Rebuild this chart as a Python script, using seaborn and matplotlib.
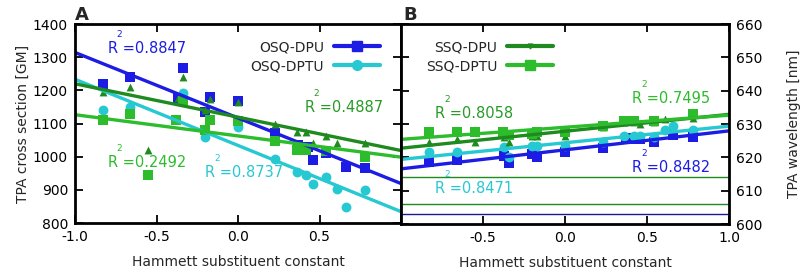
import numpy as np
import matplotlib
matplotlib.use("Agg")
import matplotlib.pyplot as plt
from matplotlib.lines import Line2D
import seaborn as sns

# Hammett constants and values
# panel A: TPA cross section [GM]
a_osq_dpu_x = [-0.83, -0.66, -0.37, -0.34, -0.20, -0.17, 0.00, 0.23, 0.37, 0.43, 0.46, 0.54, 0.66, 0.78]
a_osq_dpu_y = [1220, 1240, 1176, 1268, 1135, 1180, 1168, 1070, 1035, 1030, 990, 1010, 968, 965]
a_osq_dptu_x = [-0.83, -0.66, -0.34, -0.20, 0.00, 0.23, 0.36, 0.42, 0.46, 0.54, 0.61, 0.66, 0.78]
a_osq_dptu_y = [1140, 1150, 1193, 1060, 1090, 992, 955, 945, 919, 940, 904, 847, 900]
a_ssq_dpu_x = [-0.83, -0.66, -0.55, -0.37, -0.34, -0.20, -0.17, 0.00, 0.23, 0.36, 0.42, 0.46, 0.54, 0.61, 0.78]
a_ssq_dpu_y = [1196, 1211, 1020, 1178, 1241, 1140, 1174, 1166, 1100, 1073, 1074, 1042, 1062, 1040, 1042]
a_ssq_dptu_x = [-0.83, -0.66, -0.55, -0.38, -0.34, -0.20, -0.17, 0.00, 0.23, 0.36, 0.42, 0.54, 0.78]
a_ssq_dptu_y = [1110, 1128, 945, 1110, 1168, 1080, 1110, 1107, 1048, 1020, 1020, 1018, 1000]

# panel B: TPA wavelength [nm]
b_osq_dpu_x = [-0.83, -0.66, -0.37, -0.34, -0.20, -0.17, 0.00, 0.23, 0.37, 0.43, 0.46, 0.54, 0.66, 0.78]
b_osq_dpu_y = [618.5, 619.3, 620.5, 618.4, 621.0, 620.2, 621.7, 622.7, 625.7, 625.5, 625.4, 624.7, 626.7, 626.2]
b_osq_dptu_x = [-0.83, -0.66, -0.37, -0.34, -0.20, -0.17, 0.00, 0.23, 0.36, 0.42, 0.46, 0.54, 0.61, 0.66, 0.78]
b_osq_dptu_y = [621.7, 621.7, 623.2, 620.0, 623.5, 623.3, 623.5, 624.7, 626.4, 626.4, 626.4, 626.2, 628.2, 629.5, 628.2]
b_ssq_dpu_x = [-0.83, -0.66, -0.55, -0.37, -0.34, -0.20, -0.17, 0.00, 0.23, 0.36, 0.42, 0.46, 0.54, 0.61, 0.78]
b_ssq_dpu_y = [624.5, 625.5, 624.7, 626.2, 624.7, 626.5, 626.5, 626.4, 629.0, 630.5, 630.5, 630.0, 630.5, 631.5, 631.7]
b_ssq_dptu_x = [-0.83, -0.66, -0.55, -0.38, -0.34, -0.20, -0.17, 0.00, 0.23, 0.36, 0.42, 0.54, 0.78]
b_ssq_dptu_y = [627.5, 627.5, 627.5, 627.5, 626.8, 627.0, 627.5, 627.5, 629.5, 631.0, 631.0, 631.0, 633.0]
b_ref_lines = [614, 606, 603]

# R^2 labels as printed in the figure
a_r2 = ["0.8847", "0.8737", "0.4887", "0.2492"]
b_r2 = ["0.8482", "0.8471", "0.8058", "0.7495"]

BLUE = "#1c1ce4"
CYAN = "#26c8d2"
DGREEN = "#1f8a1f"
LGREEN = "#2cbc2c"
NAVY = "#1a1a90"

sns.set_style("ticks")
plt.rcParams["font.family"] = ["DejaVu Sans"]
plt.rcParams["axes.unicode_minus"] = False

fig = plt.figure(figsize=(8.09, 2.72), dpi=100)
W, H = 809, 272
ax1 = fig.add_axes([75 / W, 1 - 223 / H, 326 / W, 199 / H])
ax2 = fig.add_axes([401 / W, 1 - 224 / H, 328 / W, 200 / H])

styles = [(BLUE, "s", 46), (CYAN, "o", 50), (DGREEN, "^", 32), (LGREEN, "s", 48)]
a_series = [(a_osq_dpu_x, a_osq_dpu_y), (a_osq_dptu_x, a_osq_dptu_y),
            (a_ssq_dpu_x, a_ssq_dpu_y), (a_ssq_dptu_x, a_ssq_dptu_y)]
b_series = [(b_osq_dpu_x, b_osq_dpu_y), (b_osq_dptu_x, b_osq_dptu_y),
            (b_ssq_dpu_x, b_ssq_dpu_y), (b_ssq_dptu_x, b_ssq_dptu_y)]

ax1.set_xlim(-1, 1)
ax1.set_ylim(800, 1400)
ax2.set_xlim(-1, 1)
ax2.set_ylim(600, 660)

for ax, series in [(ax1, a_series), (ax2, b_series)]:
    for (x, y), (c, m, s) in zip(series, styles):
        sns.regplot(x=np.array(x), y=np.array(y), ax=ax, ci=None, truncate=False,
                    marker=m, color=c,
                    scatter_kws={"s": s, "linewidths": 0, "alpha": 1},
                    line_kws={"lw": 2.4})

for v, c in zip(b_ref_lines, [DGREEN, DGREEN, NAVY]):
    ax2.axhline(v, color=c, lw=1.0)


def r2_label(ax, x, y, val, color):
    ax.text(x, y, "R =" + val, color=color, fontsize=10.5, ha="left", va="baseline")
    ax.annotate("2", xy=(x, y), xytext=(6.5, 11.5), textcoords="offset points",
                color=color, fontsize=6.5, ha="left", va="baseline")


r2_label(ax1, -0.80, 1312, a_r2[0], BLUE)
r2_label(ax1, -0.20, 940, a_r2[1], CYAN)
r2_label(ax1, 0.41, 1135, a_r2[2], "#279a27")
r2_label(ax1, -0.80, 970, a_r2[3], LGREEN)

r2_label(ax2, 0.41, 615.7, b_r2[0], BLUE)
r2_label(ax2, -0.79, 609.2, b_r2[1], CYAN)
r2_label(ax2, -0.79, 631.7, b_r2[2], "#279a27")
r2_label(ax2, 0.41, 636.2, b_r2[3], LGREEN)

# ticks and frame
for ax in (ax1, ax2):
    ax.tick_params(direction="in", length=6, width=1.3, top=True, right=True,
                   labelsize=10, colors="black", pad=5)
    for sp in ax.spines.values():
        sp.set_linewidth(2.0)
        sp.set_color("black")
    ax.set_xlabel("Hammett substituent constant", fontsize=10, labelpad=8)

ax1.set_xticks([-1.0, -0.5, 0.0, 0.5, 1.0])
ax1.set_xticklabels(["-1.0", "-0.5", "0.0", "0.5", ""])
ax1.set_yticks(range(800, 1401, 100))
ax1.set_ylabel("TPA cross section [GM]", fontsize=10, labelpad=2)

ax2.set_xticks([-1.0, -0.5, 0.0, 0.5, 1.0])
ax2.set_xticklabels(["", "-0.5", "0.0", "0.5", "1.0"])
ax2.set_yticks(range(600, 661, 10))
ax2.tick_params(labelleft=False, labelright=True)
ax2.yaxis.set_label_position("right")
ax2.set_ylabel("TPA wavelength [nm]", fontsize=10, labelpad=18)

# legends
h_a = [Line2D([], [], color=BLUE, lw=3, marker="s", ms=7),
       Line2D([], [], color=CYAN, lw=3, marker="o", ms=7)]
ax1.legend(h_a, ["OSQ-DPU", "OSQ-DPTU"], loc="upper right", bbox_to_anchor=(0.96, 0.96),
           frameon=False, markerfirst=False, fontsize=10, handlelength=3.3,
           handletextpad=0.7, labelspacing=0.35, borderaxespad=0.2)
h_b = [Line2D([], [], color=DGREEN, lw=3, marker="v", ms=3.5),
       Line2D([], [], color=LGREEN, lw=3, marker="s", ms=6.5)]
ax2.legend(h_b, ["SSQ-DPU", "SSQ-DPTU"], loc="upper left", bbox_to_anchor=(0.05, 0.96),
           frameon=False, markerfirst=False, fontsize=10, handlelength=3.3,
           handletextpad=0.7, labelspacing=0.35, borderaxespad=0.2)

fig.text(75 / W, 1 - 20 / H, "A", fontsize=13, fontweight="bold")
fig.text(403 / W, 1 - 20 / H, "B", fontsize=13, fontweight="bold")

fig.savefig("out.png", dpi=100)
